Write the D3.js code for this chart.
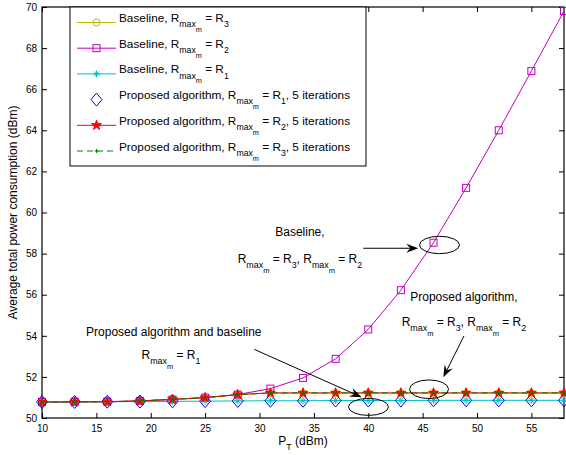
<!DOCTYPE html>
<html>
<head>
<meta charset="utf-8">
<script src="https://cdn.jsdelivr.net/npm/d3@7"></script>
<style>
  body { margin: 0; background: #fff; }
  svg { display: block; }
  text { font-family: "Liberation Sans", Arial, Helvetica, sans-serif; fill: #000; white-space: pre; }
</style>
</head>
<body>
<div id="chart"></div>
<script>
// Transmit power (dBm) on the x axis
const pt = [10, 13, 16, 19, 22, 25, 28, 31, 34, 37, 40, 43, 46, 49, 52, 55, 58];

// Average total power consumption (dBm)
const baseR3 = [50.78, 50.78, 50.79, 50.83, 50.91, 50.99, 51.14, 51.22, 51.22, 51.22, 51.22, 51.22, 51.22, 51.22, 51.22, 51.22, 51.22];
const baseR2 = [50.78, 50.79, 50.80, 50.83, 50.90, 50.99, 51.14, 51.43, 51.95, 52.88, 54.31, 56.22, 58.53, 61.20, 64.00, 66.88, 69.80];
const baseR1 = [50.78, 50.78, 50.79, 50.80, 50.81, 50.82, 50.83, 50.84, 50.84, 50.85, 50.85, 50.85, 50.86, 50.86, 50.86, 50.86, 50.86];
const propR1 = [50.78, 50.78, 50.79, 50.80, 50.81, 50.82, 50.83, 50.84, 50.84, 50.85, 50.85, 50.85, 50.86, 50.86, 50.86, 50.86, 50.86];
const propR2 = [50.78, 50.78, 50.79, 50.83, 50.91, 50.99, 51.14, 51.22, 51.22, 51.22, 51.22, 51.22, 51.22, 51.22, 51.22, 51.22, 51.22];
const propR3 = [50.78, 50.78, 50.79, 50.83, 50.91, 50.99, 51.14, 51.22, 51.22, 51.22, 51.22, 51.22, 51.22, 51.22, 51.22, 51.22, 51.22];

const xTicks = [10, 15, 20, 25, 30, 35, 40, 45, 50, 55];
const yTicks = [50, 52, 54, 56, 58, 60, 62, 64, 66, 68, 70];

const width = 566, height = 455;
const margin = { top: 7, right: 2, bottom: 37, left: 42 };

const svg = d3.select("#chart").append("svg")
  .attr("width", width)
  .attr("height", height);

const x = d3.scaleLinear().domain([10, 58]).range([margin.left, width - margin.right]);
const y = d3.scaleLinear().domain([50, 70]).range([height - margin.bottom, margin.top]);

const FS = 12;

// text with TeX-like subscripts: level 0 normal, 1 subscript, 2 sub-subscript
function rich(t, parts, fs) {
  const sizes = [fs, fs * 0.74, fs * 0.62];
  const drops = [0, fs * 0.45, fs * 0.85];
  let cur = 0;
  parts.forEach(([s, lv]) => {
    t.append("tspan")
      .attr("dy", drops[lv] - cur)
      .style("font-size", sizes[lv] + "px")
      .text(s);
    cur = drops[lv];
  });
  return t;
}

// axes (ticks inside, box on all sides)
const axisG = svg.append("g").style("font-size", FS + "px");

axisG.append("g")
  .attr("transform", `translate(0,${y(50)})`)
  .call(d3.axisBottom(x).tickValues(xTicks).tickSize(-5).tickPadding(7));
axisG.append("g")
  .attr("transform", `translate(0,${y(70)})`)
  .call(d3.axisTop(x).tickValues(xTicks).tickSize(-5).tickFormat(""));
axisG.append("g")
  .attr("transform", `translate(${x(10)},0)`)
  .call(d3.axisLeft(y).tickValues(yTicks).tickSize(-5).tickPadding(5));
axisG.append("g")
  .attr("transform", `translate(${x(58)},0)`)
  .call(d3.axisRight(y).tickValues(yTicks).tickSize(-5).tickFormat(""));

axisG.selectAll(".domain").remove();
axisG.selectAll("text").style("font-family", "'Liberation Sans', Arial, sans-serif").attr("fill", "#000");
axisG.selectAll(".tick line").attr("stroke", "#000");

svg.append("rect")
  .attr("x", x(10)).attr("y", y(70))
  .attr("width", x(58) - x(10)).attr("height", y(50) - y(70))
  .attr("fill", "none").attr("stroke", "#000").attr("stroke-width", 1.2);

// axis titles
rich(svg.append("text")
  .attr("x", (x(10) + x(58)) / 2).attr("y", 445)
  .attr("text-anchor", "middle"),
  [["P", 0], ["T", 1], [" (dBm)", 0]], FS);

svg.append("text")
  .attr("transform", `translate(17,${(y(50) + y(70)) / 2}) rotate(-90)`)
  .attr("text-anchor", "middle")
  .style("font-size", FS + "px")
  .text("Average total power consumption (dBm)");

// markers
const mk = {
  circle: (g, c) => g.append("circle").attr("r", 3.5).attr("fill", "none").attr("stroke", c),
  square: (g, c) => g.append("rect").attr("x", -3.5).attr("y", -3.5).attr("width", 7).attr("height", 7)
    .attr("fill", "none").attr("stroke", c),
  asterisk: (g, c) => g.append("path").attr("d", "M-3.5,0H3.5M0,-3.5V3.5M-2.5,-2.5L2.5,2.5M-2.5,2.5L2.5,-2.5")
    .attr("stroke", c).attr("fill", "none"),
  diamond: (g, c) => g.append("path").attr("d", "M0,-6.5L5.5,0L0,6.5L-5.5,0Z").attr("fill", "none").attr("stroke", c),
  star: (g, c) => g.append("path").attr("d", d3.symbol(d3.symbolStar, 30)()).attr("fill", c).attr("stroke", c),
  plus: (g, c) => g.append("path").attr("d", "M-2,0H2M0,-2V2").attr("stroke", c).attr("fill", "none")
};

const series = [
  { name: [["Baseline, R", 0], ["max", 1], ["m", 2], [" = R", 0], ["3", 1]], vals: baseR3, color: "#bfbf00", marker: "circle", line: true },
  { name: [["Baseline, R", 0], ["max", 1], ["m", 2], [" = R", 0], ["2", 1]], vals: baseR2, color: "#bf00bf", marker: "square", line: true },
  { name: [["Baseline, R", 0], ["max", 1], ["m", 2], [" = R", 0], ["1", 1]], vals: baseR1, color: "#00bfbf", marker: "asterisk", line: true },
  { name: [["Proposed algorithm, R", 0], ["max", 1], ["m", 2], [" = R", 0], ["1", 1], [", 5 iterations", 0]], vals: propR1, color: "#0000ff", marker: "diamond", line: false },
  { name: [["Proposed algorithm, R", 0], ["max", 1], ["m", 2], [" = R", 0], ["2", 1], [", 5 iterations", 0]], vals: propR2, color: "#ff0000", marker: "star", line: true },
  { name: [["Proposed algorithm, R", 0], ["max", 1], ["m", 2], [" = R", 0], ["3", 1], [", 5 iterations", 0]], vals: propR3, color: "#008000", marker: "plus", line: true, dash: "6,4" }
];

const lineGen = d3.line().x((d, i) => x(pt[i])).y(d => y(d)).curve(d3.curveLinear);

const plotG = svg.append("g");
series.forEach(s => {
  const g = plotG.append("g");
  if (s.line) {
    g.append("path")
      .attr("d", lineGen(s.vals))
      .attr("fill", "none")
      .attr("stroke", s.color)
      .attr("stroke-width", 1)
      .attr("stroke-dasharray", s.dash || null);
  }
  s.vals.forEach((v, i) => {
    const m = g.append("g").attr("transform", `translate(${x(pt[i])},${y(v)})`);
    mk[s.marker](m, s.color);
  });
});

// annotations (positions in data units)
const annG = svg.append("g").style("font-size", FS + "px");

function ellipse(cx, cy, rx, ry) {
  annG.append("ellipse")
    .attr("cx", x(cx)).attr("cy", y(cy)).attr("rx", rx).attr("ry", ry)
    .attr("fill", "none").attr("stroke", "#000").attr("stroke-width", 1);
}

function arrow(x1, y1, x2, y2) {
  const ax = x(x1), ay = y(y1), bx = x(x2), by = y(y2);
  const a = Math.atan2(by - ay, bx - ax);
  const p = (d, o) => [bx - d * Math.cos(a) - o * Math.sin(a), by - d * Math.sin(a) + o * Math.cos(a)];
  const back = p(8, 0);
  annG.append("line")
    .attr("x1", ax).attr("y1", ay).attr("x2", back[0]).attr("y2", back[1])
    .attr("stroke", "#000").attr("stroke-width", 1);
  annG.append("path")
    .attr("d", `M${bx},${by}L${p(12, 4.5)}L${back}L${p(12, -4.5)}Z`)
    .attr("fill", "#000");
}

const rr = (a, b) => [["R", 0], ["max", 1], ["m", 2], [" = R", 0], [a, 1], [", R", 0], ["max", 1], ["m", 2], [" = R", 0], [b, 1]];

annG.append("text").attr("x", x(33.72)).attr("y", y(58.86)).attr("text-anchor", "middle").text("Baseline,");
rich(annG.append("text").attr("x", x(33.72)).attr("y", y(57.54)).attr("text-anchor", "middle"), rr("3", "2"), FS);
arrow(39.54, 58.26, 44.6, 58.26);
ellipse(46.55, 58.42, 20, 8.7);

annG.append("text").attr("x", x(48.8)).attr("y", y(55.67)).attr("text-anchor", "middle").text("Proposed algorithm,");
rich(annG.append("text").attr("x", x(48.8)).attr("y", y(54.48)).attr("text-anchor", "middle"), rr("3", "2"), FS);
arrow(48.8, 53.99, 46.9, 51.98);
ellipse(45.59, 51.40, 19.5, 9.3);

annG.append("text").attr("x", x(14.05)).attr("y", y(53.97)).text("Proposed algorithm and baseline");
rich(annG.append("text").attr("x", x(19.15)).attr("y", y(52.87)),
  [["R", 0], ["max", 1], ["m", 2], [" = R", 0], ["1", 1]], FS);
arrow(29.52, 53.34, 39.4, 51.01);
ellipse(40.02, 50.54, 20, 8.5);

// legend
const legX = 70, legY = 7, legW = 296, legH = 159, rowH = 25.7;
const leg = svg.append("g");
leg.append("rect")
  .attr("x", legX).attr("y", legY).attr("width", legW).attr("height", legH)
  .attr("fill", "#fff").attr("stroke", "#000").attr("stroke-width", 1);

series.forEach((s, i) => {
  const cy = legY + 15.5 + i * rowH;
  const row = leg.append("g");
  if (s.line) {
    row.append("line")
      .attr("x1", legX + 7).attr("x2", legX + 46).attr("y1", cy).attr("y2", cy)
      .attr("stroke", s.color).attr("stroke-dasharray", s.dash || null);
  }
  const m = row.append("g").attr("transform", `translate(${legX + 26.5},${cy})`);
  mk[s.marker](m, s.color);
  rich(row.append("text").attr("x", legX + 49).attr("y", cy - 0.5), s.name, 11.8);
});
</script>
</body>
</html>
